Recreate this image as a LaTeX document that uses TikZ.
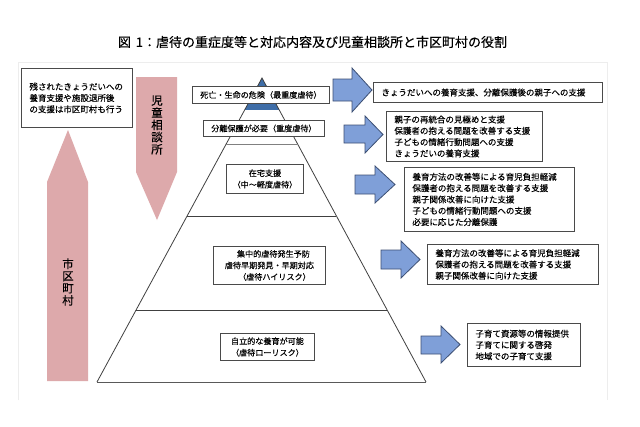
\documentclass[tikz,border=0pt]{standalone}
\usepackage{fontspec}
\setmainfont[FakeBold=0.25]{Noto Sans CJK JP}
\newfontfamily\titlefont[FakeBold=0.35]{Noto Sans CJK JP}
\usetikzlibrary{calc}
\definecolor{pinkfill}{HTML}{DDA9AB}
\definecolor{bluefill}{HTML}{7F9FD8}
\definecolor{blueedge}{HTML}{3C4F73}
\definecolor{topblue}{HTML}{3F6EA8}
\definecolor{boxedge}{HTML}{4A4A4A}
\tikzset{
  pinkarrow/.style={fill=pinkfill,draw=none},
  bluearrow/.style={fill=bluefill,draw=blueedge,line width=0.8pt,line join=miter},
  pyr/.style={draw=black!75,line width=0.8pt},
  lbox/.style n args={2}{draw=boxedge,fill=white,line width=0.9pt,anchor=north west,inner xsep=8pt,inner ysep=0pt,
    text width=#1pt-16pt,minimum height=#2pt,align=left,font=\fontsize{8.5}{11.3}\selectfont},
  cbox/.style n args={2}{draw=boxedge,fill=white,line width=0.9pt,anchor=north west,inner sep=0pt,
    minimum width=#1pt,minimum height=#2pt,align=center,font=\fontsize{8.1}{11.5}\selectfont},
  vlabel/.style={align=center,inner sep=0pt,font=\fontsize{11.5}{12.2}\selectfont},
}
\newcommand{\bluearr}[7]{\draw[bluearrow] (#1,#5)--(#3,#5)--(#3,#4)--(#2,{(#4+#7)/2})--(#3,#7)--(#3,#6)--(#1,#6)--cycle;}
\begin{document}
\begin{tikzpicture}[x=1pt,y=-1pt]
\useasboundingbox (0,0) rectangle (640,426);
\fill[white] (0,0) rectangle (640,426);
% faint frame
\draw[black!7,line width=0.8pt] (18,400) -- (18,62) -- (607,62) -- (607,400);
% title
\node[inner sep=0pt,font=\titlefont\fontsize{13}{14}\selectfont] (title) at (312.5,42) {図\hspace{2pt} 1：虐待の重症度等と対応内容及び児童相談所と市区町村の役割};
% pink arrows
\fill[pinkarrow] (68,130)--(88,182)--(88,381)--(47,381)--(47,182)--cycle;
\fill[pinkarrow] (136,77)--(177,77)--(177,172)--(157,220)--(136,172)--cycle;
\node[vlabel] (shiku) at (68,282) {市\\区\\町\\村};
\node[vlabel] (jidou) at (157,125) {児\\童\\相\\談\\所};
% pyramid
\coordinate (apex) at (262,78);
\coordinate (bl) at (97,382);
\coordinate (br) at (426,382);
\fill[topblue] (apex) -- ($(apex)!.105!(bl)$) -- ($(apex)!.105!(br)$) -- cycle;
\draw[pyr] (bl) -- (apex) -- (br);
\draw[pyr,draw=black!65,line width=1pt] (bl) -- (br);
\draw[pyr,draw=black!50,line width=1pt] ($(apex)!.22!(bl)$) -- ($(apex)!.22!(br)$);
\draw[pyr] ($(apex)!.454!(bl)$) -- ($(apex)!.454!(br)$);
\draw[pyr] ($(apex)!.763!(bl)$) -- ($(apex)!.763!(br)$);
% pyramid labels
\node[cbox={137}{17}] (lv1) at (192,86) {死亡・生命の危険（最重度虐待）};
\node[cbox={121}{16}] (lv2) at (203,120) {分離保護が必要（重度虐待）};
\node[cbox={77}{29}] (lv3) at (226,164) {在宅支援\\（中～軽度虐待）};
\node[cbox={112}{38}] (lv4) at (213,246) {\hspace*{8pt}集中的虐待発生予防\\虐待早期発見・早期対応\\\hspace*{10pt}（虐待ハイリスク）};
\node[cbox={94}{27}] (lv5) at (220,333) {自立的な養育が可能\\（虐待ローリスク）};
% left box
\node[lbox={111}{59}] (left) at (21,68) {残されたきょうだいへの\\養育支援や施設退所後\\の支援は市区町村も行う};
% blue arrows
\bluearr{333}{372}{352}{68}{79}{101}{112}
\bluearr{344}{383}{365}{116}{125}{143}{153}
\bluearr{355}{395}{375}{166}{175}{194}{203}
\bluearr{381}{420}{401}{241}{250}{269}{278}
\bluearr{421}{460}{441}{326}{336}{354}{363}
% right boxes
\node[lbox={229}{20}] (r1) at (373,82) {きょうだいへの養育支援、分離保護後の親子への支援};
\node[lbox={156}{50}] (r2) at (386,111) {親子の再統合の見極めと支援\\保護者の抱える問題を改善する支援\\子どもの情緒行動問題への支援\\きょうだいの養育支援};
\node[lbox={170}{64}] (r3) at (404,167) {養育方法の改善等による育児負担軽減\\保護者の抱える問題を改善する支援\\親子関係改善に向けた支援\\子どもの情緒行動問題への支援\\必要に応じた分離保護};
\node[lbox={171}{40}] (r4) at (427,244) {養育方法の改善等による育児負担軽減\\保護者の抱える問題を改善する支援\\親子関係改善に向けた支援};
\node[lbox={113}{43}] (r5) at (467,323) {子育て資源等の情報提供\\子育てに関する啓発\\地域での子育て支援};
\end{tikzpicture}
\end{document}
